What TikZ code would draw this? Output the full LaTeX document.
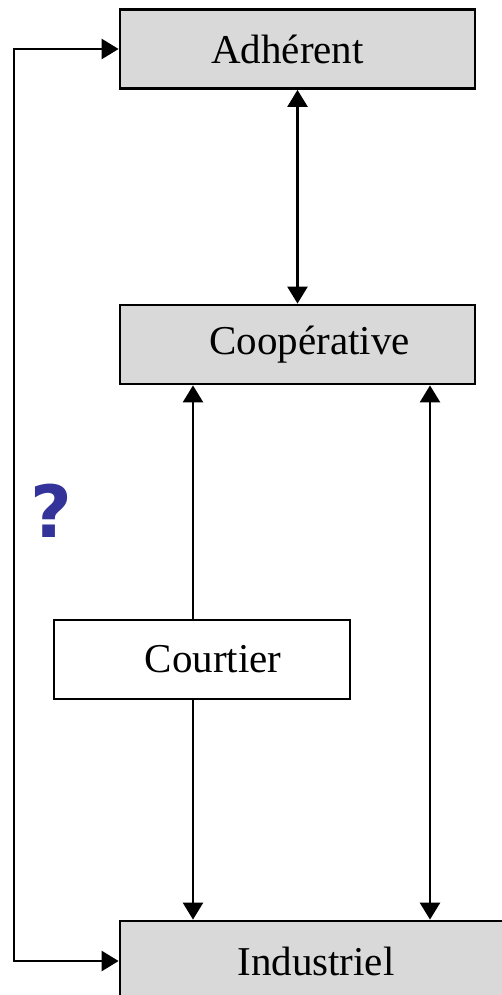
\documentclass[tikz,border=0pt]{standalone}
\usepackage{fontspec}
\setmainfont{Liberation Serif}
\newfontfamily\qfont{DejaVu Sans}
\usetikzlibrary{arrows.meta}
\definecolor{boxgray}{HTML}{D9D9D9}
\definecolor{qblue}{HTML}{333399}
\begin{document}
\begin{tikzpicture}[x=1pt,y=-1pt,
  box/.style={draw=black,line width=2.8pt,minimum height=79pt,inner sep=0pt,
    font=\fontsize{41}{48}\selectfont},
  graybox/.style={box,fill=boxgray},
  conn/.style={line width=2.6pt,-{Triangle[width=20pt,length=17pt]}},
  conn2/.style={line width=2.6pt,{Triangle[width=20pt,length=17pt]}-{Triangle[width=20pt,length=17pt]}},
  conn1/.style={line width=2.6pt,{Triangle[width=20pt,length=17pt]}-}]
\useasboundingbox (0,0) rectangle (502,995);
\begin{scope}
\clip (0,0) rectangle (502,995);
\node[graybox,minimum width=355pt] (adh) at (297.5,49) {\hspace*{-20pt}Adhérent};
\node[graybox,minimum width=355pt] (coop) at (297.5,344.5) {\hspace*{24pt}Coopérative};
\node[box,fill=white,minimum width=296pt] (cour) at (202,659.5) {\hspace*{22pt}Courtier};
\node[graybox,minimum width=392pt,minimum height=80pt,text width=355pt,align=center] (ind) at (316,961) {Industriel};
\node[font=\qfont\bfseries\fontsize{72}{80}\selectfont,text=qblue] (q) at (51,511) {?};
\coordinate (cx) at (193,0);
\coordinate (rx) at (430,0);
\coordinate (lx) at (14,0);
\draw[conn2] (adh.south) -- (coop.north);
\draw[conn1] (coop.south -| cx) -- (cour.north -| cx);
\draw[conn] (cour.south -| cx) -- (ind.north -| cx);
\draw[conn2] (coop.south -| rx) -- (ind.north -| rx);
\draw[conn2] (adh.west) -- (adh.west -| lx) -- (ind.west -| lx) -- (ind.west);
\end{scope}
\end{tikzpicture}
\end{document}
